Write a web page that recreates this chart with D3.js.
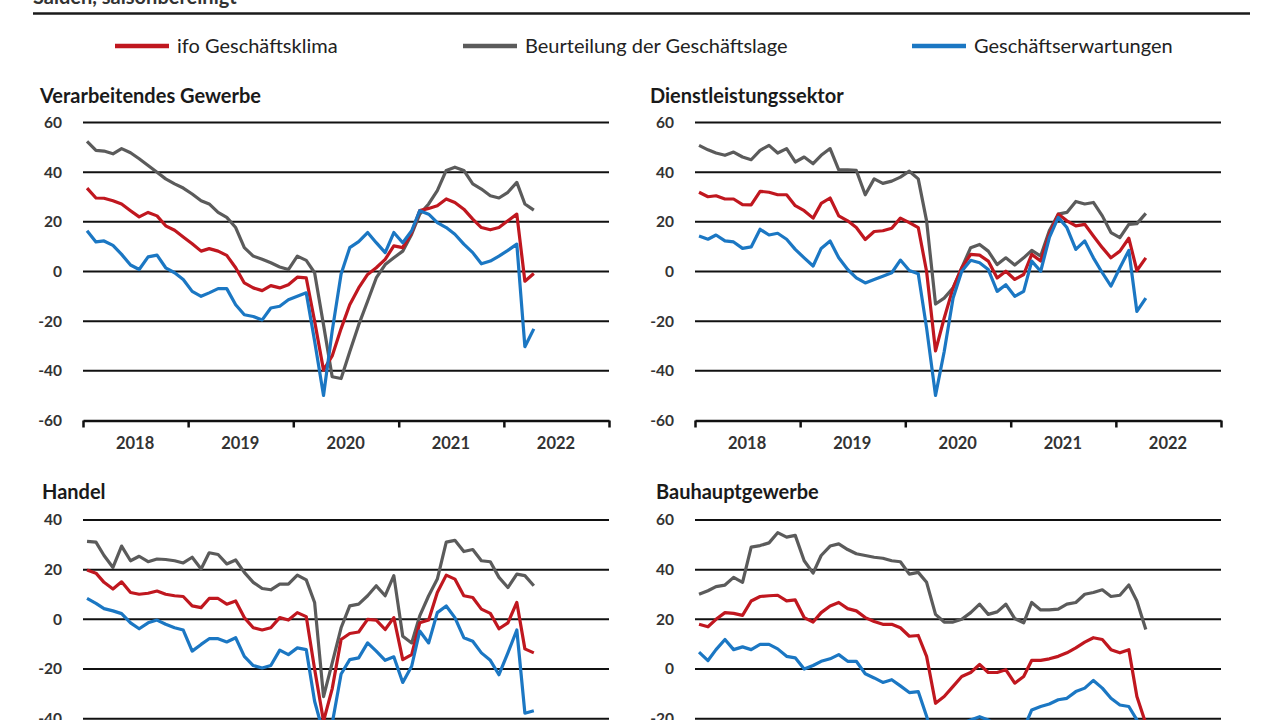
<!DOCTYPE html>
<html>
<head>
<meta charset="utf-8">
<script src="https://cdn.jsdelivr.net/npm/d3@7/dist/d3.min.js"></script>
<style>
  html, body { margin: 0; padding: 0; background: #fff; overflow: hidden; }
  svg { display: block; font-family: Lato, "Open Sans", sans-serif; }
</style>
</head>
<body>
<svg id="chart" width="1280" height="720"></svg>
<script>
// ---- Data (monthly, Jan 2018 – Apr 2022), balances, seasonally adjusted ----
const years = [2018, 2019, 2020, 2021, 2022];
const seriesNames = ["Beurteilung der Geschäftslage", "ifo Geschäftsklima", "Geschäftserwartungen"];
const legendOrder = ["ifo Geschäftsklima", "Beurteilung der Geschäftslage", "Geschäftserwartungen"];
const panelTitles = ["Verarbeitendes Gewerbe", "Dienstleistungssektor", "Handel", "Bauhauptgewerbe"];
const ticksA = [-60, -40, -20, 0, 20, 40, 60];
const ticksB = [-80, -60, -40, -20, 0, 20, 40];

const manufClimate = [33.6,29.6,29.5,28.5,27.2,24.5,22,23.8,22.4,18.4,16.6,13.9,11.2,8.2,9.2,8.2,6.5,1.5,-4.6,-6.6,-7.7,-5.7,-6.6,-5.3,-2.3,-2.6,-20,-39.7,-34,-23,-13.4,-6.6,-1.2,1.5,4.9,10.3,9.6,15.7,24.5,25.4,26.5,29.2,27.8,25.1,21.1,17.7,16.8,17.7,20.4,23.1,-3.9,-0.8];
const manufSituation = [52.4,48.8,48.5,47.4,49.5,47.8,45.4,42.7,40,37.3,35.3,33.6,31.2,28.5,27.2,23.8,21.8,17.7,9.6,6.2,4.9,3.5,1.8,0.8,6.2,4.5,-0.5,-21.5,-42.4,-43.1,-32.3,-21.5,-12,-2.6,2.8,5.5,8.2,15,23.1,27.2,32.6,40.7,42,40.7,35.3,33.2,30.5,29.6,31.9,35.9,27.2,24.7];
const manufExpect = [16.4,11.9,12.3,10.5,6.9,2.6,0.8,5.9,6.6,1.5,-0.5,-3.2,-8,-10,-8.6,-6.9,-6.9,-13.4,-17.4,-18.1,-19.5,-14.7,-14,-11.4,-10,-8.6,-28,-49.9,-24,-1,9.6,12,15.7,11.6,7.6,15.7,11.6,16.4,24.5,23.1,19.7,17.7,15,11,7.6,3.1,4.2,6.2,8.5,11,-30.3,-23.1];

const servClimate = [31.9,30.1,30.5,29.2,29.2,26.9,26.8,32.3,31.9,30.9,30.9,26.5,24.5,21.5,27.4,29.6,22.4,20.4,17.7,12.9,16.1,16.4,17.4,21.5,19.7,17.7,0,-32,-18.8,-6.6,1.5,6.9,6.6,4.2,-2.6,0.1,-3.2,-1.2,6.9,4.2,15,23.1,20.4,18.4,19,14.3,9.6,5.5,8.2,13.4,0.4,5.5];
const servSituation = [50.8,49,47.7,46.8,48.1,46.1,45,48.8,50.8,47.7,49.5,44.1,46.1,43.4,46.8,49.5,40.9,40.9,40.7,30.9,37.3,35.5,36.4,38,40.4,37.3,20.4,-13.1,-10.7,-6.6,1.5,9.6,10.9,8.2,2.8,5.5,2.6,5.5,8.5,6.2,16.4,23.1,23.8,28.2,27.2,27.8,22.4,15.7,13.6,19,19.3,23.4];
const servExpect = [14.3,13,14.7,12.3,11.9,9.3,9.9,17,14.7,15.4,13,8.9,5.5,2.2,9.3,12.3,5.5,0.8,-2.6,-4.6,-3.2,-1.9,-0.5,4.6,0.4,-0.9,-22.8,-49.9,-32.3,-10.7,0.1,4.5,3.5,0.8,-8,-5.3,-10,-8,4.2,0.1,13.6,21.8,17.7,8.9,12.3,5.5,-0.5,-5.9,1.5,8.5,-16.1,-10.7];

const tradeClimate = [19.9,18.6,14.9,12.2,15.1,10.8,10.1,10.5,11.4,10.1,9.5,9.2,5.4,4.7,8.4,8.4,6.1,7.4,0.7,-3.4,-4.3,-3.4,0.7,-0.3,2.7,1.1,-20,-41,-28,-8.1,-5.7,-5.1,0,-0.3,-4.1,0.7,-16.2,-14.2,-1.4,-0.3,10.8,17.8,16.2,9.5,8.8,4.1,2.4,-3.8,-1.4,6.8,-11.9,-13.5];
const tradeSituation = [31.4,31.1,25.7,20.9,29.5,23.6,25.4,23.2,24.3,24.1,23.6,22.7,25,20.3,26.8,26.1,22.3,23.9,18.9,14.9,12.4,11.9,14.2,14.2,17.8,15.9,6.8,-31.1,-17.6,-3.4,5.4,6.1,9.5,13.5,9.5,17.6,-6.8,-9.5,1.4,9.5,16.2,31.1,31.8,27.3,28.1,23.6,23.2,16.9,12.8,18.2,17.6,13.5];
const tradeExpect = [8.4,6.4,4.3,3.4,2.3,-1.4,-3.8,-1.4,-0.3,-2,-3.4,-4.3,-12.8,-10.1,-7.8,-7.8,-9.1,-7.4,-14.9,-18.6,-19.6,-18.6,-12.4,-14.2,-11.5,-12.2,-33,-46,-42,-22,-16.2,-15.5,-9.5,-12.8,-16.5,-15.1,-25.4,-18.9,-4.7,-9.5,2.7,5.4,0.7,-7.4,-8.8,-13.5,-16.5,-22.3,-13.5,-4.3,-37.8,-36.8];

const constrClimate = [18,17,20,22.7,22.4,21.6,27.4,29.2,29.5,29.7,27.4,27.8,20.7,18.9,22.7,25.4,26.8,24.3,23.4,20.7,19.1,18,18,16.6,13.2,13.5,5.1,-13.8,-11.1,-7,-3,-1.4,1.8,-1.4,-1.4,-0.3,-5.7,-3,3.5,3.5,4.1,5.1,6.5,8.5,10.8,12.6,11.9,7.8,6.5,7.8,-11.1,-22];
const constrSituation = [30.1,31.5,33.2,33.8,36.9,34.9,49.1,49.7,50.8,54.9,53.1,53.8,43.6,38.6,45.7,49.5,50.4,48.1,46.4,45.7,45,44.6,43.6,43.2,38.2,38.9,34.9,22,18.9,18.9,20,22.7,26.1,22,23,26.1,20.3,18.6,26.8,23.8,23.8,24.1,26.1,26.8,30.1,30.8,31.9,29.2,29.7,33.8,27.4,15.9];
const constrExpect = [6.8,3.4,7.8,11.9,7.8,8.9,7.8,9.9,9.9,8.1,5.1,4.5,0,1.4,3.1,4.1,5.8,3.1,3.1,-1.9,-3.6,-5.4,-4.3,-6.8,-9.5,-9.1,-19,-32,-28,-25,-22,-20.5,-19.2,-20.5,-23,-22,-26,-24,-16.5,-15.1,-14.1,-12.4,-11.8,-9.1,-7.7,-4.6,-7.7,-11.8,-14.5,-15.1,-20.5,-38];

// ---- Styles ----
const colors = {
  "ifo Geschäftsklima": "#c0171f",
  "Beurteilung der Geschäftslage": "#5b5b5b",
  "Geschäftserwartungen": "#1b77c3"
};
const H = 720;

const svg = d3.select("#chart");

// Header
svg.append("text").attr("x", 33).attr("y", 4)
  .attr("font-size", 20).attr("fill", "#333").attr("font-weight", 700)
  .text("Salden, saisonbereinigt");
svg.append("line").attr("x1", 33).attr("x2", 1250).attr("y1", 13.5).attr("y2", 13.5)
  .attr("stroke", "#1a1a1a").attr("stroke-width", 2.5);

// Legend
const legendX = [115, 463, 912];
legendOrder.forEach((name, k) => {
  const g = svg.append("g").attr("transform", `translate(${legendX[k]},46)`);
  g.append("line").attr("x1", 0).attr("x2", 54).attr("y1", 0).attr("y2", 0)
    .attr("stroke", colors[name]).attr("stroke-width", 4.5);
  g.append("text").attr("x", 62).attr("y", 0).attr("dy", "0.35em")
    .attr("font-size", 20).attr("fill", "#222").text(name);
});

// Panels
const panels = [
  { title: panelTitles[0], x0: 83, top: 122.5, titleX: 40, titleY: 103, domain: [-60, 60], ticks: ticksA,
    data: [manufSituation, manufClimate, manufExpect] },
  { title: panelTitles[1], x0: 695, top: 122.5, titleX: 650, titleY: 103, domain: [-60, 60], ticks: ticksA,
    data: [servSituation, servClimate, servExpect] },
  { title: panelTitles[2], x0: 83, top: 520, titleX: 42, titleY: 499, domain: [-80, 40], ticks: ticksB,
    data: [tradeSituation, tradeClimate, tradeExpect] },
  { title: panelTitles[3], x0: 695, top: 520, titleX: 656, titleY: 499, domain: [-60, 60], ticks: ticksA,
    data: [constrSituation, constrClimate, constrExpect] }
];

const plotW = 526, plotH = 298;

panels.forEach(p => {
  const g = svg.append("g");
  const x = d3.scaleTime()
    .domain([new Date(years[0], 0, 1), new Date(years[years.length - 1] + 1, 0, 1)])
    .range([p.x0, p.x0 + plotW]);
  const y = d3.scaleLinear().domain(p.domain).range([p.top + plotH, p.top]);

  g.append("text").attr("x", p.titleX).attr("y", p.titleY)
    .attr("font-size", 20).attr("font-weight", 700).attr("fill", "#1a1a1a").text(p.title);

  // horizontal gridlines
  g.selectAll(".grid").data(p.ticks.filter(t => t !== p.domain[0])).join("line")
    .attr("x1", p.x0).attr("x2", p.x0 + plotW)
    .attr("y1", d => y(d)).attr("y2", d => y(d))
    .attr("stroke", "#111").attr("stroke-width", 2);

  // y tick labels (only those that fall inside the visible page)
  g.selectAll(".ylab").data(p.ticks.filter(t => y(t) < H + 2)).join("text")
    .attr("x", p.x0 - 21).attr("y", d => y(d)).attr("dy", "0.35em")
    .attr("text-anchor", "end").attr("font-size", 15.5).attr("font-weight", 700).attr("fill", "#333")
    .text(d => d);

  // x axis at bottom
  const xAxis = d3.axisBottom(x)
    .tickValues(d3.range(years[0], years[years.length - 1] + 2).map(yr => new Date(yr, 0, 1)))
    .tickFormat("").tickSize(7).tickSizeOuter(0);
  const ax = g.append("g").attr("transform", `translate(0,${y(p.domain[0])})`).call(xAxis);
  ax.select(".domain").attr("stroke", "#111").attr("stroke-width", 2.5);
  ax.selectAll(".tick line").attr("stroke", "#111").attr("stroke-width", 2.5);

  const labY = y(p.domain[0]) + 28;
  if (labY < H) {
    g.selectAll(".xlab").data(years).join("text")
      .attr("x", d => x(new Date(d, 6, 1))).attr("y", labY)
      .attr("text-anchor", "middle").attr("font-size", 16.5).attr("font-weight", 700).attr("fill", "#333")
      .text(d => d);
  }

  // series lines
  const line = d3.line()
    .x((d, i) => x(new Date(years[0], i, 15)))
    .y(d => y(d));
  p.data.forEach((vals, k) => {
    g.append("path").datum(vals)
      .attr("d", line)
      .attr("fill", "none")
      .attr("stroke", colors[seriesNames[k]])
      .attr("stroke-width", 3.2)
      .attr("stroke-linejoin", "round");
  });
});
</script>
</body>
</html>
